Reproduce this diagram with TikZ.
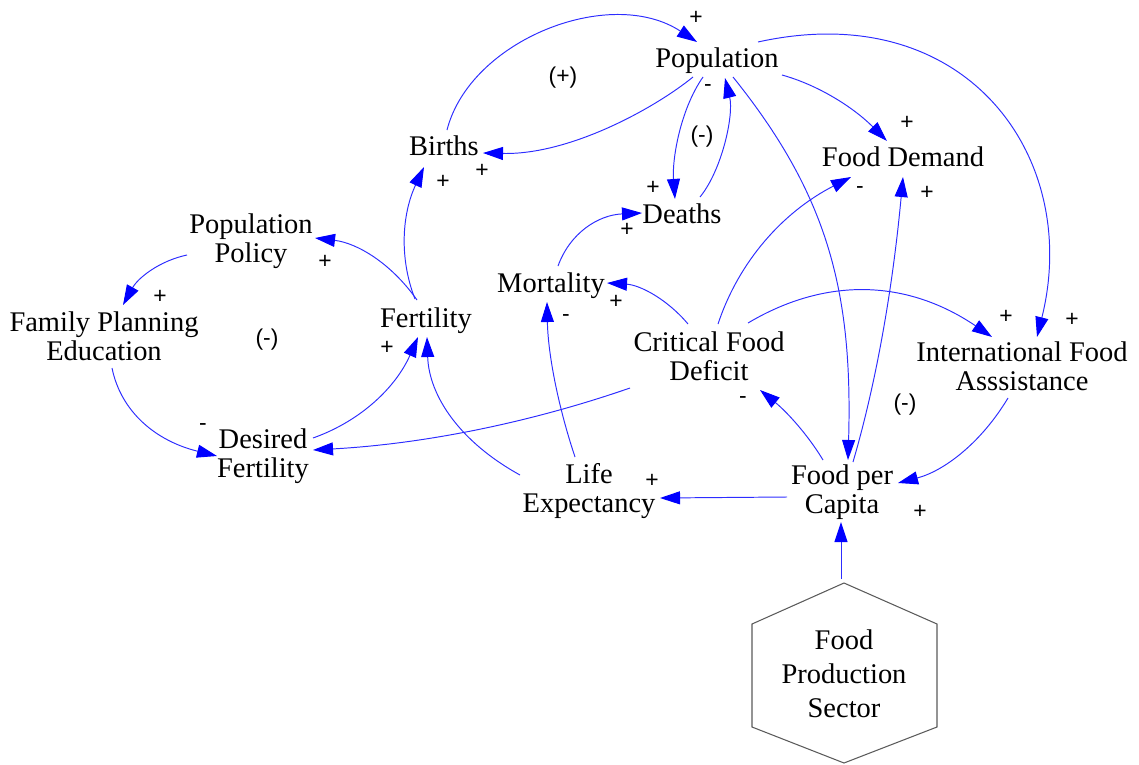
\documentclass[tikz,border=0pt]{standalone}
\usepackage{fontspec}
\setmainfont{Liberation Serif}
\newfontfamily\lblfont{Liberation Sans}
\usetikzlibrary{arrows.meta}
\definecolor{linkblue}{RGB}{45,45,255}
\definecolor{hexgray}{RGB}{90,90,90}
\begin{document}
\begin{tikzpicture}[x={(0.02cm,0)}, y={(0,-0.02cm)},
  var/.style={font=\fontsize{16.2}{16.5}\selectfont, align=center, inner sep=0pt},
  sgn/.style={font=\lblfont\fontsize{13}{14}\selectfont, inner sep=0pt},
  link/.style={draw=linkblue, line width=0.55pt, -{Triangle[length=11.4pt,width=7.4pt,color=blue]}},
  hexline/.style={draw=hexgray, line width=0.6pt}
]
\useasboundingbox (0,0) rectangle (1139,764);

% variables
\node[var] (pop)    at (717,61)   {Population};
\node[var] (births) at (444,146)  {Births};
\node[var] (deaths) at (682,214)  {Deaths};
\node[var] (fd)     at (903,157)  {Food Demand};
\node[var] (pp)     at (251,241)  {Population\\Policy};
\node[var] (fpe)    at (104,336)  {Family Planning\\Education};
\node[var] (fert)   at (426,321)  {Fertility};
\node[var] (mort)   at (551,286)  {Mortality};
\node[var] (cfd)    at (709,356)  {Critical Food\\Deficit};
\node[var] (ifa)    at (1022,366) {International Food\\Asssistance};
\node[var] (df)     at (263,456)  {Desired\\Fertility};
\node[var] (le)     at (589,491)  {Life\\Expectancy};
\node[var] (fpc)    at (842,492)  {Food per\\Capita};
\node[var, font=\fontsize{16.2}{19.3}\selectfont] (fps) at (844,674) {Food\\Production\\Sector};

% hexagon around the sector
\draw[hexline] ([shift={(0,-91)}]fps.center) -- ([shift={(93,-50)}]fps.center)
  -- ([shift={(93,53)}]fps.center) -- ([shift={(0,89)}]fps.center)
  -- ([shift={(-92,53)}]fps.center) -- ([shift={(-92,-50)}]fps.center) -- cycle;

% connectors
\draw[link] ([shift={(3,-16)}]births.center) .. controls (470,40) and (610,-15) .. ([shift={(-20,-19)}]pop.center);
\draw[link] ([shift={(-24,16)}]pop.center) .. controls (655,108) and (570,155) .. ([shift={(39,7)}]births.center);
\draw[link] ([shift={(-14,16)}]pop.center) .. controls (680,110) and (672,160) .. ([shift={(-7,-15)}]deaths.center);
\draw[link] ([shift={(18,-17)}]deaths.center) .. controls (722,170) and (734,115) .. ([shift={(8,17)}]pop.center);
\draw[link] ([shift={(65,14)}]pop.center) .. controls (818,85) and (853,107) .. ([shift={(-16,-16)}]fd.center);
\draw[link] ([shift={(16,16)}]pop.center) .. controls (827,194) and (853,290) .. ([shift={(6,-32)}]fpc.center);
\draw[link] ([shift={(41,-19)}]pop.center) .. controls (966,-4) and (1082,157) .. ([shift={(15,-29)}]ifa.center);
\draw[link] ([shift={(11,-30)}]fpc.center) .. controls (877,380) and (893,285) .. ([shift={(0,20)}]fd.center);
\draw[link] ([shift={(9,-32)}]cfd.center) .. controls (739,261) and (783,212) .. ([shift={(-52,20)}]fd.center);
\draw[link] ([shift={(39,-33)}]cfd.center) .. controls (827,276) and (908,280) .. ([shift={(-30,-29)}]ifa.center);
\draw[link] ([shift={(-14,32)}]ifa.center) .. controls (981,443) and (944,471) .. ([shift={(56,-9)}]fpc.center);
\draw[link] ([shift={(-19,-32)}]fpc.center) .. controls (808,435) and (787,412) .. ([shift={(51,34)}]cfd.center);
\draw[link] ([shift={(-55,5)}]fpc.center) -- ([shift={(71,7)}]le.center);
\draw[link] ([shift={(-3,-95)}]fps.center) -- ([shift={(-1,30)}]fpc.center);
\draw[link] ([shift={(-21,-32)}]cfd.center) .. controls (667,299) and (640,285) .. ([shift={(56,-3)}]mort.center);
\draw[link] ([shift={(-14,-34)}]le.center) .. controls (558,406) and (548,354) .. ([shift={(-4,16)}]mort.center);
\draw[link] ([shift={(7,-20)}]mort.center) .. controls (570,233) and (598,215) .. ([shift={(-40,-1)}]deaths.center);
\draw[link] ([shift={(-69,-16)}]le.center) .. controls (460,442) and (429,396) .. ([shift={(1,16)}]fert.center);
\draw[link] ([shift={(-79,32)}]cfd.center) .. controls (529,423) and (423,444) .. ([shift={(50,-6)}]df.center);
\draw[link] ([shift={(50,-18)}]df.center) .. controls (361,421) and (396,387) .. ([shift={(-8,16)}]fert.center);
\draw[link] ([shift={(-9,-21)}]fert.center) .. controls (391,263) and (357,243) .. ([shift={(64,-3)}]pp.center);
\draw[link] ([shift={(-64,14)}]pp.center) .. controls (159,261) and (138,278) .. ([shift={(19,-31)}]fpe.center);
\draw[link] ([shift={(8,32)}]fpe.center) .. controls (121,412) and (156,441) .. ([shift={(-46,0)}]df.center);
\draw[link] ([shift={(-11,-22)}]fert.center) .. controls (399,258) and (402,214) .. ([shift={(-20,21)}]births.center);

% polarity signs and loop labels
\node[sgn] (s1)  at (696,18)  {+};
\node[sgn] (s2)  at (563,78)  {(+)};
\node[sgn] (s3)  at (708,88)  {-};
\node[sgn] (s4)  at (702,137) {(-)};
\node[sgn] (s5)  at (482,171) {+};
\node[sgn] (s6)  at (443,182) {+};
\node[sgn] (s7)  at (653,188) {+};
\node[sgn] (s8)  at (627,230) {+};
\node[sgn] (s9)  at (907,123) {+};
\node[sgn] (s10) at (860,190) {-};
\node[sgn] (s11) at (927,193) {+};
\node[sgn] (s12) at (1006,317) {+};
\node[sgn] (s13) at (1072,320) {+};
\node[sgn] (s14) at (905,405) {(-)};
\node[sgn] (s15) at (920,512) {+};
\node[sgn] (s16) at (743,400) {-};
\node[sgn] (s17) at (652,481) {+};
\node[sgn] (s18) at (616,302) {+};
\node[sgn] (s19) at (566,318) {-};
\node[sgn] (s20) at (325,262) {+};
\node[sgn] (s21) at (160,297) {+};
\node[sgn] (s22) at (267,340) {(-)};
\node[sgn] (s23) at (387,348) {+};
\node[sgn] (s24) at (203,427) {-};
\end{tikzpicture}
\end{document}
